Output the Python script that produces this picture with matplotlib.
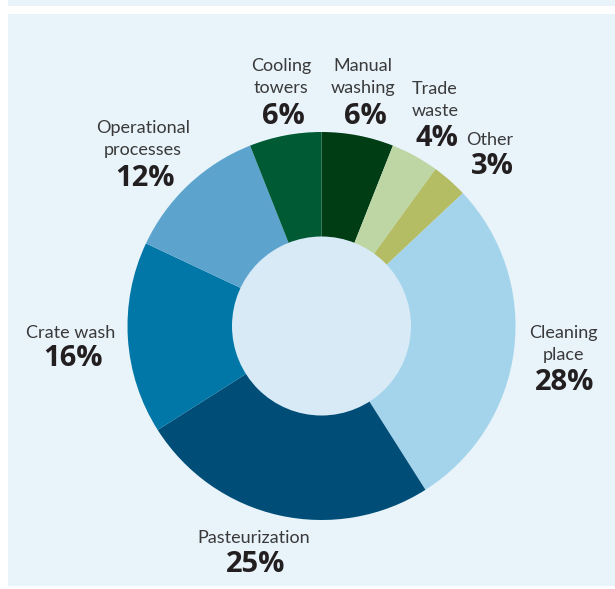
import matplotlib
matplotlib.use("Agg")
import matplotlib.pyplot as plt
from matplotlib.patches import Rectangle, Circle

categories = ["Manual\nwashing", "Trade\nwaste", "Other", "Cleaning\nplace",
              "Pasteurization", "Crate wash", "Operational\nprocesses", "Cooling\ntowers"]
values = [6, 4, 3, 28, 25, 16, 12, 6]
pct_labels = ["6%", "4%", "3%", "28%", "25%", "16%", "12%", "6%"]
colors = ["#003d14", "#bdd6a4", "#b5bd64", "#a4d4ec", "#004e78", "#0077a6", "#5ca4ce", "#005a33"]

W, H = 615, 589
fig = plt.figure(figsize=(W / 100, H / 100), dpi=100)
fig.patch.set_facecolor("white")

bg = "#e8f3fa"
def rect(x0, y0, x1, y1, c):
    fig.patches.append(Rectangle((x0 / W, 1 - y1 / H), (x1 - x0) / W, (y1 - y0) / H,
                                 transform=fig.transFigure, facecolor=c, edgecolor="none", zorder=-5))
rect(8, 0, W, 6, bg)
rect(8, 14, W, 586, bg)

cx, cy, R = 321.5, 326, 194
ax = fig.add_axes([(cx - R) / W, 1 - (cy + R) / H, 2 * R / W, 2 * R / H], zorder=1)
ax.pie(values, colors=colors, startangle=90, counterclock=False, radius=1.0,
       wedgeprops=dict(width=1.0, edgecolor="none", linewidth=0))
ax.add_patch(Circle((0, 0), 89.5 / R, facecolor="#d7eaf6", edgecolor="none", zorder=5))
ax.set_xlim(-1, 1)
ax.set_ylim(-1, 1)
ax.set_aspect("equal")
ax.axis("off")
ax.patch.set_alpha(0)

label_pos = [
    (363, 77, 116),   # Manual washing
    (435, 100, 139),  # Trade waste
    (490, 140, 166),  # Other
    (563, 344, 383),  # Cleaning place
    (254, 538, 565),  # Pasteurization
    (71, 333, 359),   # Crate wash
    (143, 139, 178),  # Operational processes
    (281, 77, 116),   # Cooling towers
]
for cat, pct, (x, ylab, ypct) in zip(categories, pct_labels, label_pos):
    fig.text(x / W, 1 - ylab / H, cat, ha="center", va="center", fontsize=13,
             color="#3a3a3a", family="Lato", linespacing=1.45, zorder=3)
    fig.text((x + 2) / W, 1 - ypct / H, pct, ha="center", va="center", fontsize=21,
             color="#231f20", family="Open Sans", fontweight="bold", fontstyle="normal", zorder=3)

fig.savefig("out.png", dpi=100, facecolor=fig.get_facecolor())
